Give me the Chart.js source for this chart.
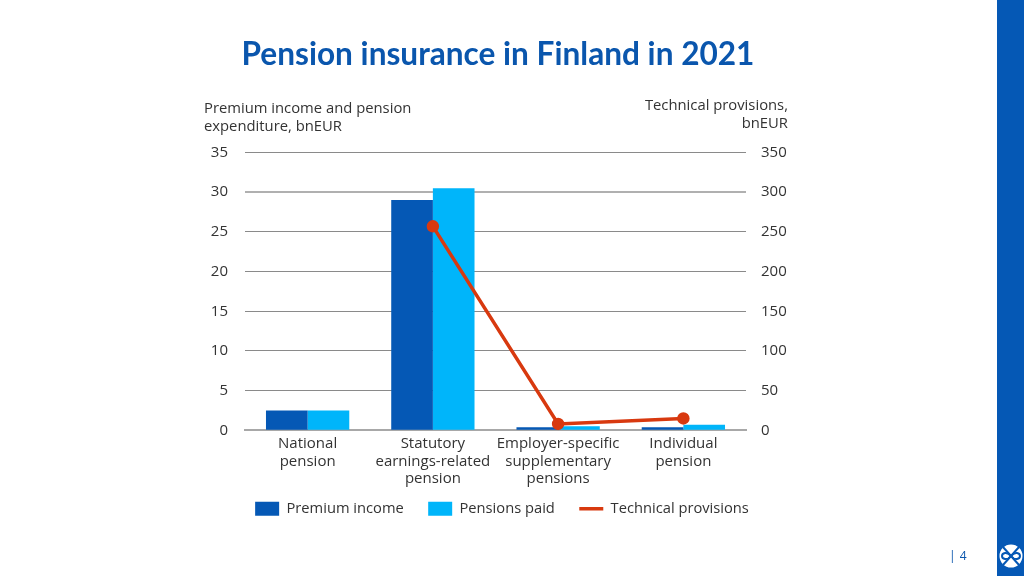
<!DOCTYPE html>
<html>
<head>
<meta charset="utf-8">
<title>Pension insurance in Finland in 2021</title>
<script src="https://cdn.jsdelivr.net/npm/chart.js@4"></script>
<style>
  html, body { margin: 0; padding: 0; background: #fff; }
  #page { position: relative; width: 1024px; height: 576px; overflow: hidden; font-family: "Open Sans", sans-serif; color: #333; }
  #myChart { position: absolute; left: 0; top: 0; }
  .text { position: absolute; white-space: nowrap; }
  #title { left: 0; width: 996px; top: 34px; text-align: center; font: bold 31.6px Lato, sans-serif; color: #0a56ad; }
  .caption { font-size: 14.8px; line-height: 18px; }
  #band { position: absolute; left: 997px; top: 0; width: 27px; height: 576px; background: #0558b5; }
  #pageNo { left: 949px; top: 547px; font-size: 12px; color: #0a56ad; word-spacing: -1px; }
  #logo { position: absolute; left: 999px; top: 544px; }
</style>
</head>
<body>
<div id="page">
  <canvas id="myChart" width="1024" height="576"></canvas>
  <div class="text" id="title">Pension insurance in Finland in 2021</div>
  <div class="text caption" style="left:204px;top:98px">Premium income and pension<br>expenditure, bnEUR</div>
  <div class="text caption" style="right:236px;top:95px;text-align:right">Technical provisions,<br>bnEUR</div>
  <div id="band"></div>
  <div class="text" id="pageNo">| &nbsp;4</div>
  <svg id="logo" width="24" height="24" viewBox="0 0 24 24">
    <circle cx="12" cy="12" r="11.5" fill="#fff"/>
    <path d="M12 12 L4 3 M12 12 L20 3 M12 12 L4 21 M12 12 L20 21" stroke="#0558b5" stroke-width="2"/>
    <path d="M12 12 C8 7 3 9 3 12 C3 15 8 17 12 12 C16 7 21 9 21 12 C21 15 16 17 12 12" fill="none" stroke="#0558b5" stroke-width="2"/>
  </svg>
</div>

<script>
// values
const categories = [
    ['National', 'pension'],
    ['Statutory', 'earnings-related', 'pension'],
    ['Employer-specific', 'supplementary', 'pensions'],
    ['Individual', 'pension']
];
const premiumIncome = [2.5, 29, 0.4, 0.4];
const pensionsPaid = [2.5, 30.5, 0.5, 0.7];
const technicalProvisions = [null, 257, 8, 15];

const textColor = '#333333';
const gridColor = '#8a8a8a';
const tickFont = { family: '"Open Sans", sans-serif', size: 15, lineHeight: 1.17 };

// legend: boxes for the bars, a plain stroke for the line
const legendLabels = chart => {
    const items = Chart.defaults.plugins.legend.labels.generateLabels(chart);
    items.forEach(item => {
        const isLine = chart.data.datasets[item.datasetIndex].type === 'line';
        item.pointStyle = isLine ? 'line' : 'rect';
        item.lineWidth = isLine ? 3.5 : 0;
        // labels.padding also pushes the legend up, so the wider gap comes from here
        if (!isLine) item.text += '\u00a0\u00a0\u00a0';
    });
    return items;
};

const ctx = document.getElementById('myChart').getContext('2d');
const myChart = new Chart(ctx, {
    type: 'bar',
    data: {
        labels: categories,
        datasets: [
            {
                label: 'Premium income',
                data: premiumIncome,
                backgroundColor: '#0558b5',
                yAxisID: 'y',
                order: 2
            },
            {
                label: 'Pensions paid',
                data: pensionsPaid,
                backgroundColor: '#00b5fa',
                yAxisID: 'y',
                order: 2
            },
            {
                type: 'line',
                label: 'Technical provisions',
                data: technicalProvisions,
                borderColor: '#d8390f',
                backgroundColor: '#d8390f',
                borderWidth: 3.5,
                pointRadius: 4.5,
                pointHoverRadius: 4.5,
                tension: 0,
                yAxisID: 'y2',
                order: 1
            }
        ]
    },
    options: {
        responsive: false,
        animation: false,
        layout: { padding: { left: 172, right: 192, top: 152.5, bottom: 50 } },
        datasets: { bar: { categoryPercentage: 0.665, barPercentage: 1 } },
        scales: {
            x: {
                afterFit: scale => { scale.height = 58; },
                grid: { display: false, drawTicks: false },
                border: { color: '#a8a8a8', width: 2 },
                ticks: { color: textColor, font: tickFont, padding: 5, maxRotation: 0, autoSkip: false }
            },
            y: {
                position: 'left',
                min: 0,
                max: 35,
                afterFit: scale => { scale.width = 73; },
                grid: {
                    color: c => (c.tick.value === 30 ? '#b0b0b0' : gridColor),
                    lineWidth: c => (c.tick.value === 30 ? 2 : 1),
                    drawTicks: false
                },
                border: { display: false },
                ticks: { stepSize: 5, color: textColor, font: tickFont, padding: 17 }
            },
            y2: {
                position: 'right',
                min: 0,
                max: 350,
                afterFit: scale => { scale.width = 86; },
                grid: { display: false, drawTicks: false },
                border: { display: false },
                ticks: { stepSize: 50, color: textColor, font: tickFont, padding: 15 }
            }
        },
        plugins: {
            tooltip: { enabled: false },
            legend: {
                position: 'bottom',
                labels: {
                    usePointStyle: true,
                    pointStyleWidth: 24,
                    boxHeight: 14,
                    color: textColor,
                    font: { family: '"Open Sans", sans-serif', size: 14.7 },
                    padding: 13,
                    generateLabels: legendLabels,
                    sort: (a, b) => a.datasetIndex - b.datasetIndex
                }
            }
        }
    }
});
</script>
</body>
</html>
